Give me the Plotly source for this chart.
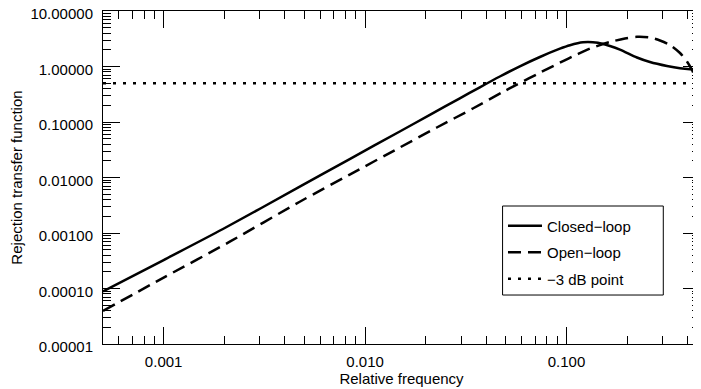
import math
import plotly.graph_objects as go

# Relative frequency samples and values
closed_freq = [0.0005, 0.001, 0.00197, 0.00474, 0.00839, 0.01487, 0.02097, 0.02954, 0.03713,
               0.04668, 0.05868, 0.07378, 0.09273, 0.1040, 0.1207, 0.1432, 0.1643, 0.1842,
               0.2237, 0.2596, 0.3153, 0.3660, 0.4102, 0.460]
closed_vals = [8.83e-5, 3.26e-4, 1.18e-3, 0.00683, 0.02147, 0.0675, 0.1343, 0.267, 0.4219,
               0.6604, 1.008, 1.483, 2.093, 2.420, 2.73, 2.67, 2.34, 2.02,
               1.452, 1.205, 1.021, 0.929, 0.893, 0.883]

open_freq = [0.0005, 0.001, 0.00213, 0.00474, 0.00839, 0.01487, 0.02271, 0.03428, 0.04831,
             0.05670, 0.07378, 0.09273, 0.1139, 0.1307, 0.1643, 0.1950, 0.2237, 0.2596,
             0.2911, 0.3264, 0.3660, 0.3964, 0.4197, 0.4444]
open_vals = [3.94e-5, 1.57e-4, 6.97e-4, 0.00366, 0.01127, 0.0347, 0.0796, 0.175, 0.3475,
             0.472, 0.773, 1.171, 1.679, 2.101, 2.763, 3.195, 3.43, 3.33,
             2.94, 2.44, 1.751, 1.231, 0.865, 0.548]

db3_freq = [0.0005, 0.460]
db3_vals = [0.5, 0.5]

x_range = [0.0005, 0.460]
y_range = [1e-5, 10]

FONT = "Liberation Sans, Arial, Helvetica, sans-serif"

fig = go.Figure()
fig.add_trace(go.Scatter(x=closed_freq, y=closed_vals, mode="lines", name="Closed\u2212loop",
                         legendgroup="a",
                         line=dict(color="black", width=2.5, shape="spline", smoothing=0.8)))
fig.add_trace(go.Scatter(x=open_freq, y=open_vals, mode="lines", name="Open\u2212loop",
                         legendgroup="b",
                         line=dict(color="black", width=2.5, dash="13px,7px", shape="spline", smoothing=0.8)))
fig.add_trace(go.Scatter(x=db3_freq, y=db3_vals, mode="lines", name="\u22123 dB point",
                         legendgroup="c", line=dict(color="black", width=2.5, dash="3px,7px")))

axis_common = dict(
    type="log", showline=True, linecolor="black", linewidth=1, mirror="ticks",
    ticks="inside", ticklen=17, tickwidth=1, tickcolor="black",
    showgrid=False, zeroline=False, dtick=1, automargin=False,
    ticklabeloverflow="allow",
    tickfont=dict(family=FONT, size=15, color="black"),
    minor=dict(ticks="inside", ticklen=8, tickwidth=1, tickcolor="black", dtick="D1", showgrid=False),
)

fig.update_xaxes(**axis_common, range=[math.log10(x_range[0]), math.log10(x_range[1])],
                 tickformat=".3f", ticklabelstandoff=4,
                 title=dict(text="Relative frequency", font=dict(family=FONT, size=15, color="black"), standoff=4))
fig.update_yaxes(**axis_common, range=[math.log10(y_range[0]), math.log10(y_range[1])],
                 tickformat=".5f", ticklabelstandoff=6, ticklabelshift=3,
                 title=dict(text="Rejection transfer function", font=dict(family=FONT, size=15, color="black"), standoff=10))

# legend frame
fig.add_shape(type="rect", xref="paper", yref="paper",
              x0=0.6693, x1=0.9385, y0=0.1471, y1=0.4144,
              line=dict(color="black", width=1), fillcolor="white", layer="above")

fig.update_layout(
    template="none",
    width=693, height=381,
    margin=dict(l=95, r=1, t=3, b=45, autoexpand=False),
    plot_bgcolor="white", paper_bgcolor="white",
    font=dict(family=FONT, size=15, color="black"),
    legend=dict(x=0.67, y=0.4039, xanchor="left", yanchor="top",
                borderwidth=0, bgcolor="rgba(0,0,0,0)",
                itemwidth=34, tracegroupgap=4,
                font=dict(family=FONT, size=15, color="black")),
    showlegend=True,
)

fig.write_html("out.html")
